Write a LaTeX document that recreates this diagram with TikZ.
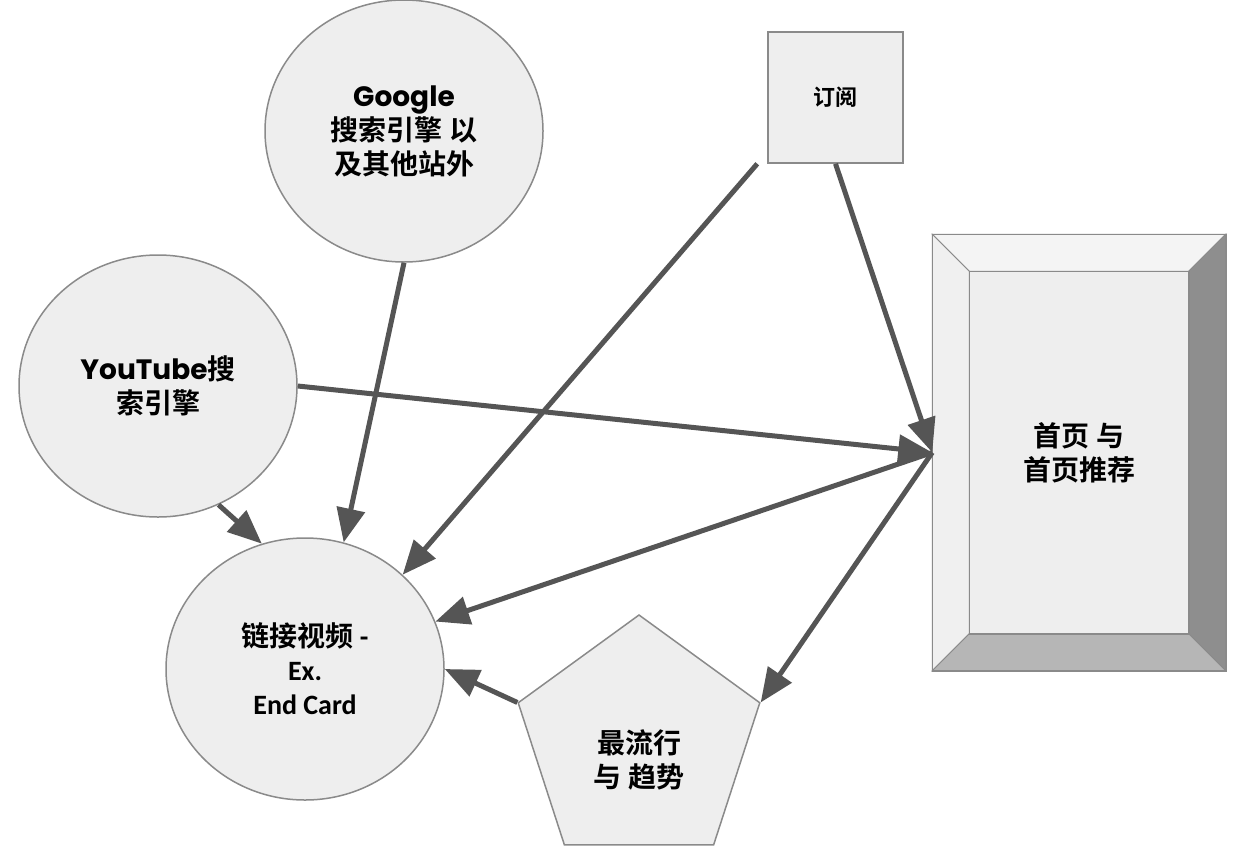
\documentclass[tikz,border=0pt]{standalone}
\usepackage{fontspec}
\setmainfont{Noto Sans CJK SC}[BoldFont={* Bold}]
\newfontfamily\geofont{Poppins}
\newfontfamily\cardfont{Carlito}
\usepackage{tikz}
\usetikzlibrary{arrows.meta,shapes.geometric,positioning}

\definecolor{shapefill}{HTML}{EEEEEE}
\definecolor{shapeline}{HTML}{8A8A8A}
\definecolor{arrowgray}{HTML}{555555}
\definecolor{bevellight}{HTML}{F4F4F4}
\definecolor{bevelleft}{HTML}{F0F0F0}
\definecolor{bevelmid}{HTML}{B6B6B6}
\definecolor{beveldark}{HTML}{8E8E8E}

\begin{document}
\begin{tikzpicture}[x=1pt,y=-1pt]

\tikzset{nodetext/.style={font=\fontsize{28}{34}\selectfont\bfseries, align=center, text=black},
         source/.style={ellipse, draw=shapeline, line width=1.5pt, fill=shapefill,
                        minimum width=278pt, minimum height=262pt, inner sep=0pt, nodetext},
         subsbox/.style={rectangle, draw=shapeline, line width=1.5pt, fill=shapefill,
                         minimum width=135pt, minimum height=131pt,
                         font=\fontsize{22}{26}\selectfont\bfseries},
         homebox/.style={rectangle, draw=shapeline, line width=1.5pt, fill=bevellight,
                         minimum width=292pt, minimum height=435pt, inner sep=0pt},
         trendbox/.style={regular polygon, regular polygon sides=5, draw=shapeline,
                          line width=1.5pt, fill=shapefill, minimum size=254pt, inner sep=0pt},
         flow/.style={draw=arrowgray, line width=5pt, -{Triangle[length=34pt,width=28pt]}}}

\useasboundingbox (0,0) rectangle (1246,854);

% sources
\node[source] (google) at (404,131) {{\geofont Google}\\搜索引擎 以\\及其他站外};
\node[source] (youtube) at (158,386) {{\geofont YouTube}搜\\索引擎};
\node[source] (links) at (305,669) {链接视频 {\cardfont -}\\{\cardfont Ex.}\\{\cardfont End Card}};
\node[subsbox] (subs) at (835.5,97.5) {订阅};

% bevelled home page box
\node[homebox] (home) at (1079,452.5) {};
\coordinate (hnw) at ([shift={(37pt,-37pt)}]home.north west);
\coordinate (hne) at ([shift={(-37pt,-37pt)}]home.north east);
\coordinate (hse) at ([shift={(-37pt,37pt)}]home.south east);
\coordinate (hsw) at ([shift={(37pt,37pt)}]home.south west);
\filldraw[fill=bevellight, draw=shapeline, line width=1pt]
    (home.north west) -- (home.north east) -- (hne) -- (hnw) -- cycle;
\filldraw[fill=bevelleft, draw=shapeline, line width=1pt]
    (home.north west) -- (hnw) -- (hsw) -- (home.south west) -- cycle;
\filldraw[fill=beveldark, draw=shapeline, line width=1pt]
    (home.north east) -- (home.south east) -- (hse) -- (hne) -- cycle;
\filldraw[fill=bevelmid, draw=shapeline, line width=1pt]
    (home.south west) -- (hsw) -- (hse) -- (home.south east) -- cycle;
\filldraw[fill=shapefill, draw=shapeline, line width=1.5pt] (hnw) rectangle (hse);
\draw[shapeline, line width=1.5pt] (home.north west) rectangle (home.south east);
\node[nodetext] (hometext) at (home.center) {首页 与\\首页推荐};

% trends
\node[trendbox] (trend) at (639,742) {};
\node[nodetext] (trendtext) at ([yshift=-18pt]trend.center) {最流行\\与 趋势};

% flows
\draw[flow] (youtube.-63) -- (links.109);
\draw[flow] (google.south) -- (links.73);
\draw[flow] ([xshift=-10pt]subs.south west) -- (links.44);
\draw[flow] (youtube.east) -- (home.west);
\draw[flow] (subs.south) -- (home.west);
\draw[flow] (home.west) -- (links.20);
\draw[flow] (home.west) -- (trend.corner 5);
\draw[flow] (trend.corner 2) -- (links.east);

\end{tikzpicture}
\end{document}
